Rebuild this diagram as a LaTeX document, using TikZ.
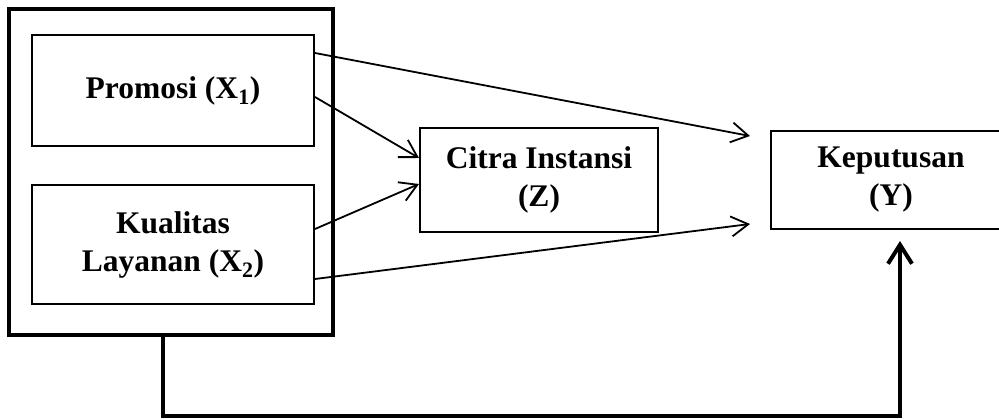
\documentclass[tikz,border=0pt]{standalone}
\usepackage{fontspec}
\setmainfont{Liberation Serif}
\usepackage{tikz}
\usetikzlibrary{arrows.meta, positioning}

\begin{document}
\begin{tikzpicture}[x=1pt, y=-1pt,
  every node/.style={font=\fontsize{31.5}{38}\selectfont\bfseries},
  box/.style={draw, line width=2pt, align=center, inner sep=0pt},
  path/.style={line width=1.8pt, -{Straight Barb[length=17pt, width=20pt, line width=1.8pt]}},
  joint/.style={line width=4pt, -{Straight Barb[length=19pt, width=24pt, line width=4pt]}}]
\clip (0,0) rectangle (999,419);
\node[draw, line width=4pt, minimum width=324pt, minimum height=326pt] (vars) at (171,172) {};
\node[box, minimum width=282pt, minimum height=111pt] (x1) at (173,90.5) {Promosi (X\textsubscript{1})};
\node[box, minimum width=282pt, minimum height=119pt, below=37pt of x1] (x2) {Kualitas\\Layanan (X\textsubscript{2})};
\node[box, minimum width=238pt, minimum height=104pt] (z) at (539,180) {Citra Instansi\\(Z)};
\node[box, minimum width=240pt, minimum height=98pt, right=111pt of z] (y) {Keputusan\\(Y)};
\coordinate (base) at (500,416);
\draw[path] ([yshift=37.5pt]x1.east) -- ([xshift=-20pt, yshift=44pt]y.west);
\draw[path] ([yshift=-6.5pt]x1.east) -- ([yshift=22pt]z.west);
\draw[path] ([yshift=15.5pt]x2.east) -- ([yshift=-4pt]z.west);
\draw[path] ([yshift=-34.5pt]x2.east) -- ([xshift=-20pt, yshift=-44pt]y.west);
\draw[joint] ([xshift=-8pt]vars.south) -- ([xshift=-8pt]vars.south |- base) -| ([xshift=9pt, yshift=-11pt]y.south);
\end{tikzpicture}
\end{document}
